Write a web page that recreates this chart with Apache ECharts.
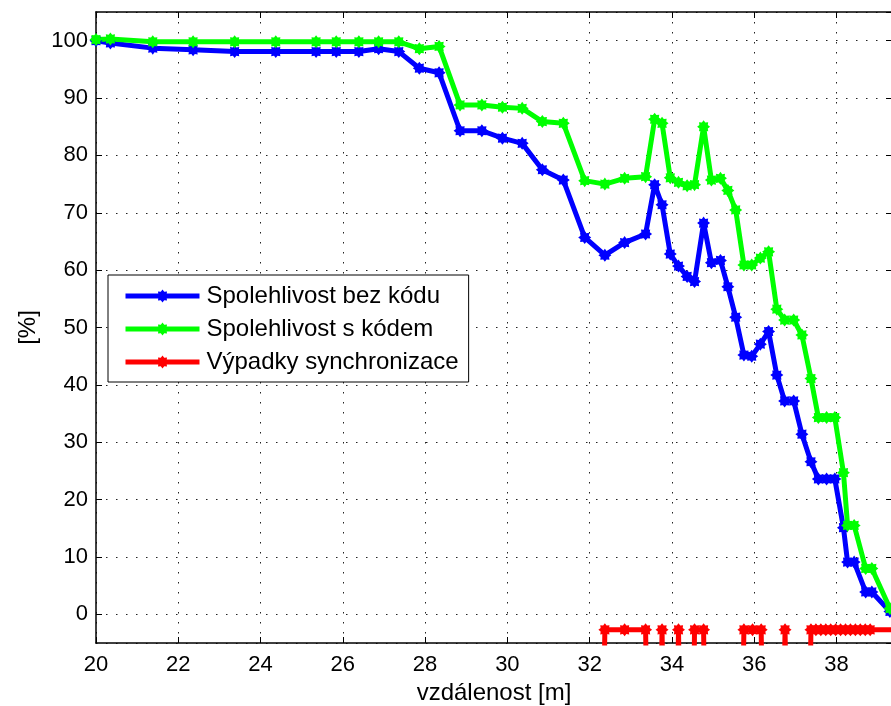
<!DOCTYPE html>
<html>
<head>
<meta charset="utf-8">
<script src="https://cdn.jsdelivr.net/npm/echarts@6/dist/echarts.min.js"></script>
<style>
html,body{margin:0;padding:0;background:#fff;}
#c{width:891px;height:706px;}
</style>
</head>
<body>
<div id="c"></div>
<script>
// distance [m]
var xs = [20.0, 20.35, 21.38, 22.36, 23.37, 24.37, 25.35, 25.84, 26.39, 26.87, 27.36, 27.86, 28.34,
  28.85, 29.38, 29.88, 30.36, 30.85, 31.36, 31.88, 32.37, 32.85, 33.36, 33.58, 33.76, 33.96, 34.16,
  34.37, 34.55, 34.77, 34.96, 35.18, 35.36, 35.55, 35.75, 35.94, 36.15, 36.35, 36.55, 36.74, 36.96,
  37.16, 37.38, 37.56, 37.76, 37.96, 38.17, 38.27, 38.43, 38.71, 38.86, 39.3];
// Spolehlivost bez kódu [%]
var bezKodu = [100.0, 99.6, 98.7, 98.4, 98.1, 98.1, 98.1, 98.1, 98.1, 98.6, 98.1, 95.2, 94.4,
  84.3, 84.3, 83.0, 82.1, 77.5, 75.7, 65.7, 62.6, 64.8, 66.3, 74.9, 71.4, 62.8, 60.7,
  58.9, 58.0, 68.2, 61.3, 61.7, 57.1, 51.8, 45.2, 45.0, 47.1, 49.3, 41.7, 37.2, 37.2,
  31.4, 26.6, 23.6, 23.6, 23.6, 15.1, 9.1, 9.1, 3.9, 3.9, 0.5];
// Spolehlivost s kódem [%]
var sKodem = [100.2, 100.3, 99.8, 99.8, 99.8, 99.8, 99.8, 99.8, 99.8, 99.8, 99.8, 98.6, 99.0,
  88.8, 88.8, 88.4, 88.2, 85.9, 85.6, 75.6, 75.0, 76.0, 76.3, 86.3, 85.6, 76.1, 75.3,
  74.7, 74.9, 85.0, 75.7, 76.0, 73.9, 70.5, 60.9, 60.9, 62.1, 63.2, 53.2, 51.3, 51.3,
  48.7, 41.1, 34.3, 34.3, 34.3, 24.7, 15.5, 15.5, 8.0, 8.0, 1.0];
// Výpadky synchronizace (values far below the axis are clipped)
var redX = [32.17, 32.37, 32.85, 33.36, 33.58, 33.76, 33.96, 34.16, 34.37, 34.55, 34.77, 34.96,
  35.55, 35.75, 35.96, 36.17, 36.35, 36.55, 36.75, 36.96, 37.16,
  37.38, 37.50, 37.62, 37.74, 37.86, 37.98, 38.10, 38.22, 38.34, 38.46, 38.58, 38.70, 38.82, 39.4];
var redY = [-100, -2.7, -2.7, -2.7, -100, -2.7, -100, -2.7, -100, -2.7, -2.7, -100,
  -100, -2.7, -2.7, -2.7, -100, -100, -2.7, -100, -100,
  -2.7, -2.7, -2.7, -2.7, -2.7, -2.7, -2.7, -2.7, -2.7, -2.7, -2.7, -2.7, -2.7, -2.7];
var seriesNames = ['Spolehlivost bez kódu', 'Spolehlivost s kódem', 'Výpadky synchronizace'];
var xTitle = 'vzdálenost [m]';
var yTitle = '[%]';

function zip(a, b) { return a.map(function (v, i) { return [v, b[i]]; }); }

var FONT = "'Liberation Sans', Arial, sans-serif";
var STAR = 'path://M20 10L16.47 12.68L17.07 17.07L12.68 16.47L10 20L7.32 16.47L2.93 17.07L3.53 12.68L0 10L3.53 7.32L2.93 2.93L7.32 3.53L10 0L12.68 3.53L17.07 2.93L16.47 7.32Z';
var XMIN = 20, XMAX = 39.35, YMIN = -5, YMAX = 105;

function mkSeries(name, data, color) {
  return {
    name: name, type: 'line', data: data, xAxisIndex: 0, yAxisIndex: 0,
    symbol: STAR, symbolSize: 13, showSymbol: true, clip: true,
    lineStyle: { color: color, width: 5 },
    itemStyle: { color: color },
    emphasis: { disabled: true }
  };
}

var chart = echarts.init(document.getElementById('c'), null, { renderer: 'canvas' });
chart.setOption({
  animation: false,
  backgroundColor: '#fff',
  textStyle: { fontFamily: FONT },
  grid: { left: 96, right: -1, top: 12, bottom: 63, containLabel: false, outerBoundsMode: 'none' },
  legend: {
    orient: 'vertical', left: 108, top: 275,
    data: seriesNames,
    backgroundColor: '#fff', borderColor: '#000', borderWidth: 1,
    padding: [8, 10, 7, 15],
    itemWidth: 74, itemHeight: 16, itemGap: 7,
    lineStyle: { width: 5 },
    textStyle: { fontFamily: FONT, fontSize: 24, color: '#000', lineHeight: 26, padding: [0, 0, 0, 2] }
  },
  xAxis: [{
    type: 'value', position: 'bottom', min: XMIN, max: XMAX, interval: 2,
    name: xTitle, nameLocation: 'middle', nameGap: 36,
    nameTextStyle: { fontFamily: FONT, fontSize: 24, color: '#000' },
    axisLine: { show: true, onZero: false, lineStyle: { color: '#000', width: 1.5 } },
    axisTick: { show: true, inside: true, length: 6, lineStyle: { color: '#000' } },
    axisLabel: { fontFamily: FONT, fontSize: 22, color: '#000', margin: 11, showMaxLabel: false },
    splitLine: { show: true, lineStyle: { color: '#222', width: 1, type: [1.5, 8.5] } }
  }, {
    type: 'value', position: 'top', min: XMIN, max: XMAX, interval: 2,
    axisLine: { show: true, onZero: false, lineStyle: { color: '#000', width: 1.5 } },
    axisTick: { show: true, inside: true, length: 6, lineStyle: { color: '#000' } },
    axisLabel: { show: false }, splitLine: { show: false }
  }],
  yAxis: [{
    type: 'value', position: 'left', min: YMIN, max: YMAX, splitNumber: 11,
    name: yTitle, nameLocation: 'middle', nameGap: 56,
    nameTextStyle: { fontFamily: FONT, fontSize: 24, color: '#000' },
    axisLine: { show: true, onZero: false, lineStyle: { color: '#000', width: 1.5 } },
    axisTick: { show: true, inside: true, length: 6, lineStyle: { color: '#000' } },
    axisLabel: { fontFamily: FONT, fontSize: 22, color: '#000', margin: 8, showMinLabel: false, showMaxLabel: false },
    splitLine: { show: true, lineStyle: { color: '#222', width: 1, type: [1.5, 8.5] } }
  }, {
    type: 'value', position: 'right', min: YMIN, max: YMAX, splitNumber: 11,
    axisLine: { show: true, onZero: false, lineStyle: { color: '#000', width: 1.5 } },
    axisTick: { show: true, inside: true, length: 6, lineStyle: { color: '#000' } },
    axisLabel: { show: false }, splitLine: { show: false }
  }],
  series: [
    mkSeries(seriesNames[0], zip(xs, bezKodu), '#0000ff'),
    mkSeries(seriesNames[1], zip(xs, sKodem), '#00ff00'),
    mkSeries(seriesNames[2], zip(redX, redY), '#ff0000')
  ]
});
</script>
</body>
</html>
